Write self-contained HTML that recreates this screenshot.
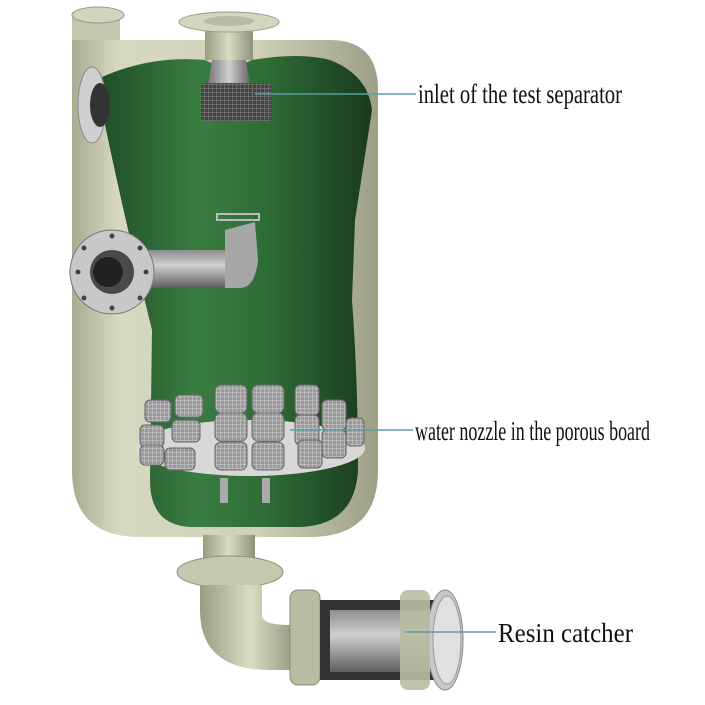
<!DOCTYPE html>
<html><head><meta charset="utf-8"><style>html,body{margin:0;padding:0;background:#fff}svg{display:block}</style></head>
<body>
<svg width="705" height="705" viewBox="0 0 705 705" xmlns="http://www.w3.org/2000/svg">
<defs>
<linearGradient id="body" x1="0" x2="1" y1="0" y2="0">
<stop offset="0" stop-color="#a9ac92"/><stop offset="0.15" stop-color="#d6d8c0"/><stop offset="0.6" stop-color="#cfd1b7"/><stop offset="1" stop-color="#9c9f86"/></linearGradient>
<linearGradient id="green" x1="0" x2="1" y1="0" y2="0">
<stop offset="0" stop-color="#1f4d26"/><stop offset="0.35" stop-color="#3a7d42"/><stop offset="0.6" stop-color="#2e6e36"/><stop offset="1" stop-color="#1a3a1f"/></linearGradient>
<linearGradient id="metal" x1="0" x2="0" y1="0" y2="1">
<stop offset="0" stop-color="#8d8d8d"/><stop offset="0.4" stop-color="#d0d0d0"/><stop offset="1" stop-color="#5f5f5f"/></linearGradient>
<linearGradient id="metalh" x1="0" x2="1" y1="0" y2="0">
<stop offset="0" stop-color="#777"/><stop offset="0.5" stop-color="#cfcfcf"/><stop offset="1" stop-color="#666"/></linearGradient>
<linearGradient id="pipe" x1="0" x2="1" y1="0" y2="0">
<stop offset="0" stop-color="#9a9d82"/><stop offset="0.5" stop-color="#d9dbc3"/><stop offset="1" stop-color="#8f927a"/></linearGradient>
<pattern id="mesh" width="4" height="4" patternUnits="userSpaceOnUse"><rect width="4" height="4" fill="#9a9a9a"/><path d="M0 0H4M0 0V4" stroke="#d0d0d0" stroke-width="1"/></pattern>
<pattern id="meshd" width="4" height="4" patternUnits="userSpaceOnUse"><rect width="4" height="4" fill="#444"/><path d="M0 0H4M0 0V4" stroke="#888" stroke-width="1"/></pattern>
</defs>
<!-- top-left small pipe -->
<path d="M72 12 L72 160 L100 160 L100 45 L120 45 L120 20 Z" fill="#c4c7ab"/>
<ellipse cx="98" cy="15" rx="26" ry="8" fill="#d2d4bd" stroke="#999" />
<!-- vessel body -->
<path d="M72 40 L330 40 Q378 40 378 90 L378 470 Q378 537 310 537 L140 537 Q72 537 72 470 Z" fill="url(#body)"/>
<!-- green interior -->
<path d="M100 78 Q150 55 205 60 Q228 72 252 60 Q300 52 330 60 Q368 75 372 110 L355 220 L352 300 Q358 380 358 470 Q355 525 300 527 L190 527 Q150 525 150 480 L152 330 Q120 200 100 100 Z" fill="url(#green)"/>
<!-- top nozzle -->
<rect x="205" y="28" width="48" height="32" fill="url(#pipe)"/>
<ellipse cx="229" cy="22" rx="50" ry="10" fill="#d4d6c0" stroke="#9a9c88"/>
<ellipse cx="229" cy="21" rx="25" ry="5" fill="#b9bba4"/>
<path d="M212 60 L246 60 L250 85 L208 85 Z" fill="url(#metalh)"/>
<rect x="201" y="83" width="70" height="38" rx="3" fill="url(#meshd)"/>
<!-- left top flange -->
<ellipse cx="92" cy="105" rx="14" ry="38" fill="#cfcfcf" stroke="#888"/>
<ellipse cx="100" cy="105" rx="10" ry="22" fill="#333"/>
<!-- horizontal pipe + elbow -->
<rect x="140" y="250" width="105" height="38" fill="url(#metal)"/>
<path d="M225 230 L255 222 L258 260 Q255 288 240 288 L225 288 Z" fill="#a7a7a7"/>
<rect x="217" y="214" width="42" height="6" fill="none" stroke="#bbb" stroke-width="2"/>
<circle cx="112" cy="272" r="42" fill="#c8c8c8" stroke="#777"/>
<circle cx="112" cy="272" r="22" fill="#4a4a4a"/>
<circle cx="108" cy="272" r="15" fill="#222"/>
<g fill="#444"><circle cx="84" cy="248" r="2.5"/><circle cx="140" cy="248" r="2.5"/><circle cx="78" cy="272" r="2.5"/><circle cx="146" cy="272" r="2.5"/><circle cx="84" cy="298" r="2.5"/><circle cx="140" cy="298" r="2.5"/><circle cx="112" cy="236" r="2.5"/><circle cx="112" cy="308" r="2.5"/></g>
<!-- porous board -->
<ellipse cx="250" cy="448" rx="115" ry="28" fill="#d8d8d6"/>
<rect x="220" y="478" width="8" height="25" fill="#aaa"/><rect x="262" y="478" width="8" height="25" fill="#aaa"/>
<g fill="url(#mesh)" stroke="#666">
<rect x="215" y="385" width="32" height="28" rx="6"/><rect x="252" y="385" width="32" height="28" rx="6"/>
<rect x="215" y="413" width="32" height="28" rx="6"/><rect x="252" y="413" width="32" height="28" rx="6"/>
<rect x="215" y="442" width="32" height="28" rx="6"/><rect x="252" y="442" width="32" height="28" rx="6"/>
<rect x="295" y="385" width="24" height="30" rx="5"/><rect x="295" y="415" width="24" height="30" rx="5"/><rect x="298" y="440" width="24" height="28" rx="5"/>
<rect x="322" y="400" width="24" height="30" rx="5"/><rect x="322" y="430" width="24" height="28" rx="5"/><rect x="346" y="418" width="18" height="28" rx="5"/>
<rect x="175" y="395" width="28" height="22" rx="5"/><rect x="172" y="420" width="28" height="22" rx="5"/><rect x="165" y="448" width="30" height="22" rx="5"/>
<rect x="145" y="400" width="26" height="22" rx="5"/><rect x="140" y="425" width="24" height="22" rx="5"/><rect x="140" y="445" width="24" height="20" rx="5"/>
</g>
<!-- bottom nozzle -->
<rect x="203" y="535" width="52" height="35" fill="url(#pipe)"/>
<ellipse cx="230" cy="572" rx="53" ry="16" fill="#c5c8ad" stroke="#8e917a"/>
<path d="M200 585 L262 585 L262 615 Q262 625 290 625 L300 625 L300 670 L270 670 Q200 670 200 610 Z" fill="url(#pipe)"/>
<!-- resin catcher -->
<rect x="290" y="590" width="30" height="95" rx="8" fill="#b9bca2" stroke="#8a8c76"/>
<rect x="320" y="600" width="120" height="80" fill="#333"/>
<rect x="330" y="610" width="110" height="62" fill="url(#metal)"/>
<ellipse cx="445" cy="640" rx="18" ry="50" fill="#c9c9c9" stroke="#888"/>
<rect x="400" y="590" width="30" height="100" rx="8" fill="#b9bca2" opacity="0.9"/>
<ellipse cx="447" cy="640" rx="14" ry="44" fill="#e0e0e0" stroke="#999"/>
<!-- leader lines -->
<g stroke="#5d9ea7" stroke-width="1.5"><line x1="255" y1="94" x2="416" y2="94"/><line x1="290" y1="430" x2="413" y2="430"/><line x1="405" y1="632" x2="496" y2="632"/></g>
<g font-family="Liberation Serif, serif" fill="#111" font-size="27">
<text x="418" y="103" textLength="204" lengthAdjust="spacingAndGlyphs">inlet of the test separator</text>
<text x="415" y="440" textLength="235" lengthAdjust="spacingAndGlyphs">water nozzle in the porous board</text>
<text x="498" y="642" textLength="135" lengthAdjust="spacingAndGlyphs">Resin catcher</text>
</g>
</svg>
</body></html>
